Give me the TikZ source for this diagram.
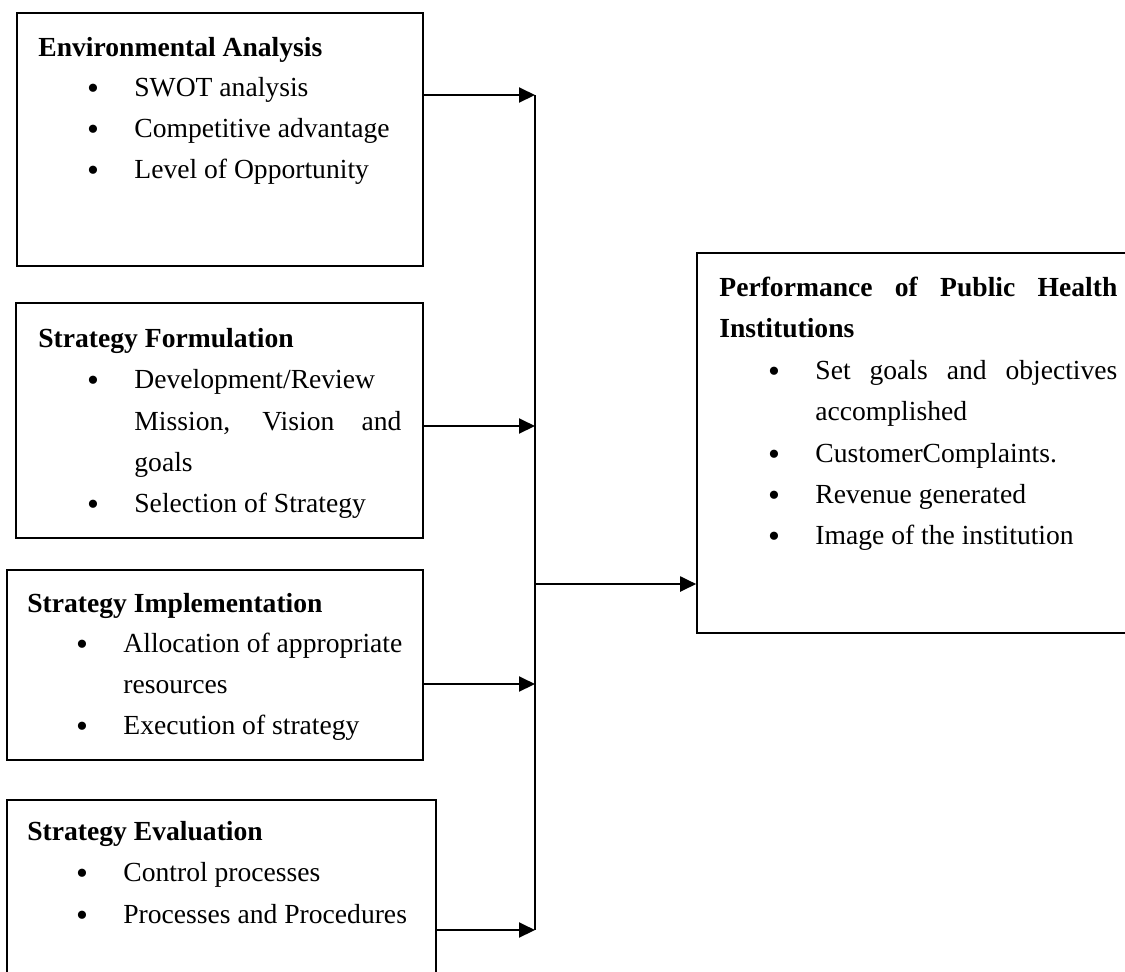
\documentclass[tikz,border=0pt]{standalone}
\usepackage{fontspec}
\setmainfont{Liberation Serif}
\usetikzlibrary{arrows.meta,fit}
\begin{document}
\begin{tikzpicture}[x=0.5pt,y=-0.5pt,
  box/.style={draw=black, line width=0.8pt, inner sep=0pt, rectangle},
  txt/.style={anchor=base west, inner sep=0pt, font=\fontsize{13.8}{16}\selectfont},
  ttl/.style={anchor=base west, inner sep=0pt, font=\fontsize{13.8}{16}\selectfont\bfseries},
  bul/.style={anchor=base, inner sep=0pt, yshift=-1.5pt, font=\fontsize{17}{18}\selectfont},
  conn/.style={line width=1pt},
  arr/.style={conn, -{Triangle[length=8pt,width=7.5pt]}}]
\useasboundingbox (0,0) rectangle (1125,971);
\clip (0,0) rectangle (1125,971);

% boxes
\node[box, fit={(17,13) (423,266)}] (env) {};
\node[box, fit={(16,303) (423,538)}] (form) {};
\node[box, fit={(7,570) (423,760)}] (impl) {};
\node[box, fit={(7,800) (436,990)}] (eval) {};
\node[box, fit={(697,253) (1140,633)}] (perf) {};

% Environmental Analysis
\node[ttl] (envT) at (38,56) {Environmental Analysis};
\node[bul] (envB1) at (93,96) {•};
\node[txt] (envI1) at (134,96) {SWOT analysis};
\node[bul] (envB2) at (93,137) {•};
\node[txt] (envI2) at (134,137) {Competitive advantage};
\node[bul] (envB3) at (93,178) {•};
\node[txt] (envI3) at (134,178) {Level of Opportunity};

% Strategy Formulation
\node[ttl] (formT) at (38,347) {Strategy Formulation};
\node[bul] (formB1) at (93,388) {•};
\node[txt] (formI1) at (134,388) {Development/Review};
\node[txt] (formI1b) at (134,430) {\makebox[133.5pt][s]{Mission, Vision and}};
\node[txt] (formI1c) at (134,471) {goals};
\node[bul] (formB2) at (93,512) {•};
\node[txt] (formI2) at (134,512) {Selection of Strategy};

% Strategy Implementation
\node[ttl] (implT) at (27,612) {Strategy Implementation};
\node[bul] (implB1) at (82,652) {•};
\node[txt] (implI1) at (123,652) {Allocation of appropriate};
\node[txt] (implI1b) at (123,693) {resources};
\node[bul] (implB2) at (82,734) {•};
\node[txt] (implI2) at (123,734) {Execution of strategy};

% Strategy Evaluation
\node[ttl] (evalT) at (27,840) {Strategy Evaluation};
\node[bul] (evalB1) at (82,881) {•};
\node[txt] (evalI1) at (123,881) {Control processes};
\node[bul] (evalB2) at (82,923) {•};
\node[txt] (evalI2) at (123,923) {Processes and Procedures};

% Performance
\node[ttl] (perfT) at (719,296) {\makebox[199pt][s]{Performance of Public Health}};
\node[ttl] (perfT2) at (719,337) {Institutions};
\node[bul] (perfB1) at (774,379) {•};
\node[txt] (perfI1) at (815,379) {\makebox[151pt][s]{Set goals and objectives}};
\node[txt] (perfI1b) at (815,420) {accomplished};
\node[bul] (perfB2) at (774,462) {•};
\node[txt] (perfI2) at (815,462) {CustomerComplaints.};
\node[bul] (perfB3) at (774,503) {•};
\node[txt] (perfI3) at (815,503) {Revenue generated};
\node[bul] (perfB4) at (774,544) {•};
\node[txt] (perfI4) at (815,544) {Image of the institution};

% connectors
\coordinate (j1) at (535,95);
\coordinate (j2) at (535,426);
\coordinate (j3) at (535,684);
\coordinate (j4) at (535,930);
\coordinate (jm) at (535,584);
\draw[conn] (j1) -- (j4);
\draw[arr] (env.east |- j1) -- (j1);
\draw[arr] (form.east |- j2) -- (j2);
\draw[arr] (impl.east |- j3) -- (j3);
\draw[arr] (eval.east |- j4) -- (j4);
\draw[arr] (jm) -- (perf.west |- jm);
\end{tikzpicture}
\end{document}
